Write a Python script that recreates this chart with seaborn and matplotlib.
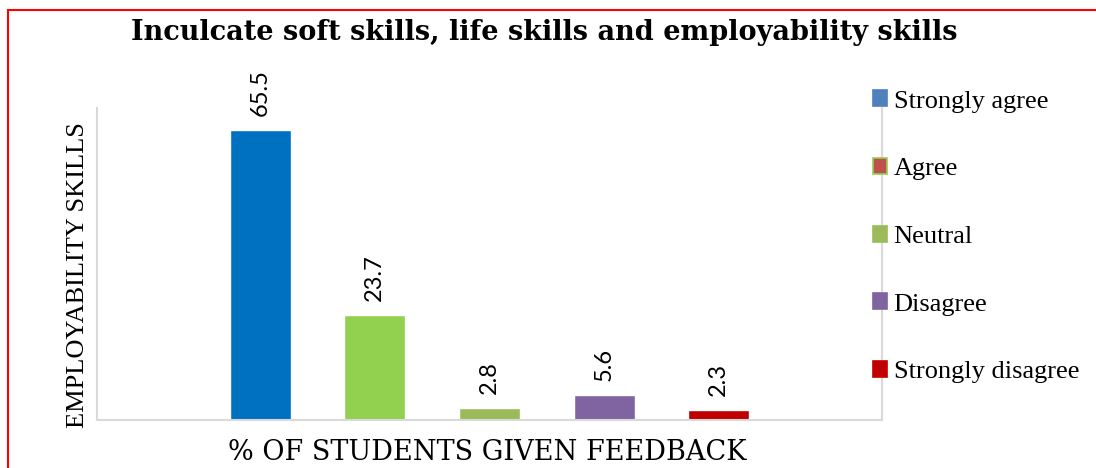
import matplotlib.pyplot as plt
import matplotlib.patches as mpatches
import seaborn as sns
import pandas as pd

# chart data
responses = ["Strongly agree", "Agree", "Neutral", "Disagree", "Strongly disagree"]
percent = [65.5, 23.7, 2.8, 5.6, 2.3]
bar_colors = ["#0070C0", "#92D050", "#9BBB59", "#8064A2", "#C00000"]
legend_faces = ["#4F81BD", "#C0504D", "#9BBB59", "#8064A2", "#C00000"]
legend_edges = ["#4F81BD", "#92D050", "#9BBB59", "#8064A2", "#C00000"]

df = pd.DataFrame({"response": responses, "percent": percent})

sns.set_style("white")
plt.rcParams["font.family"] = ["Liberation Serif", "DejaVu Serif"]
plt.rcParams["text.color"] = "black"

fig = plt.figure(figsize=(10.96, 4.68), dpi=100)
ax = fig.add_axes([97 / 1096, 1 - 420 / 468, (882 - 97) / 1096, (420 - 108) / 468])

sns.barplot(data=df, x="response", y="percent", hue="response", order=responses,
            hue_order=responses, palette=bar_colors, width=0.53, legend=False,
            saturation=1, ax=ax)

ax.set_xlim(-1.424, 5.424)
ax.set_ylim(0, 70.4)
ax.set_xticks([])
ax.set_yticks([])
ax.set_xlabel("")
ax.set_ylabel("")
for side in ["left", "right", "bottom"]:
    ax.spines[side].set_color("#D9D9D9")
    ax.spines[side].set_linewidth(1.5)
ax.spines["top"].set_visible(False)

# value labels, rotated
for i, v in enumerate(percent):
    ax.annotate(f"{v}", (i, v), xytext=(0, 10), textcoords="offset points",
                rotation=90, ha="center", va="bottom", fontsize=17,
                family=["Lato", "DejaVu Sans"], color="black", annotation_clip=False)

# legend
handles = [mpatches.Patch(facecolor=f, edgecolor=e, linewidth=1.2, label=r)
           for r, f, e in zip(responses, legend_faces, legend_edges)]
leg = ax.legend(handles=handles, loc="upper left", bbox_to_anchor=(0.9745, 1.09),
                frameon=False, fontsize=19, handlelength=0.55, handleheight=0.55,
                handletextpad=0.25, labelspacing=1.72, borderaxespad=0)

fig.text(0.497, 1 - 32 / 468, "Inculcate soft skills, life skills and employability skills",
         ha="center", va="center", fontsize=19.5, fontweight="bold",
         family=["DejaVu Serif"])
fig.text(487 / 1096, 1 - 452 / 468, "% OF STUDENTS GIVEN FEEDBACK",
         ha="center", va="center", fontsize=19.5, family=["DejaVu Serif"])
fig.text(78 / 1096, 1 - 275 / 468, "EMPLOYABILITY SKILLS", rotation=90,
         ha="center", va="center", fontsize=19)

# red page frame
fig.patches.append(mpatches.Rectangle((8 / 1096, -0.05), 1.1, 1.05 - 10 / 468,
                                      transform=fig.transFigure, fill=False,
                                      edgecolor="#FF0000", linewidth=1.5))

fig.savefig("out.png", dpi=100)
